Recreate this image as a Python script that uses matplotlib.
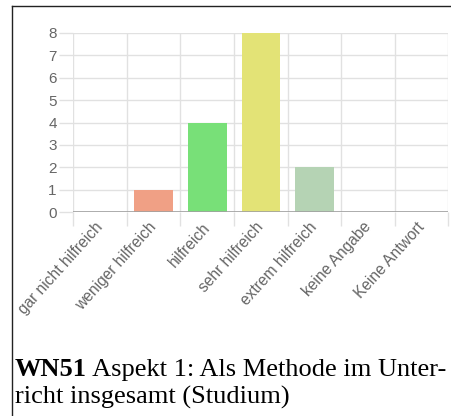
import matplotlib
matplotlib.use("Agg")
import matplotlib.pyplot as plt
from matplotlib.lines import Line2D

# data
categories = ["gar nicht hilfreich", "weniger hilfreich", "hilfreich",
              "sehr hilfreich", "extrem hilfreich", "keine Angabe", "Keine Antwort"]
counts = [0, 1, 4, 8, 2, 0, 0]
bar_colors = ["#f0a085", "#f0a085", "#78e078", "#e3e376", "#b5d3b4", "#cccccc", "#cccccc"]
y_ticks = [0, 1, 2, 3, 4, 5, 6, 7, 8]

W, H = 452, 416
fig = plt.figure(figsize=(W / 100, H / 100), dpi=100)

# axes placed in pixel terms
left, right, top, bottom = 73.3, 448.5, 33, 212
ax = fig.add_axes([left / W, 1 - bottom / H, (right - left) / W, (bottom - top) / H])

x = list(range(len(categories)))
ax.bar(x, counts, width=0.72, color=bar_colors, zorder=3)

ax.set_xlim(-0.5, len(categories) - 0.5)
ax.set_ylim(0, 8)
for s in ax.spines.values():
    s.set_visible(False)

grid_c = "#e1e1e1"
# vertical grid lines at category boundaries, extending down as ticks
bounds = [i - 0.5 for i in range(len(categories) + 1)]
ax.set_xticks(bounds, minor=True)
ax.tick_params(axis="x", which="minor", length=10, color=grid_c, width=1)
ax.grid(True, axis="x", which="minor", color=grid_c, lw=1, zorder=0)
ax.set_xticks(x)
ax.set_xticklabels(categories, rotation=48, ha="right", va="center",
                   rotation_mode="anchor", fontsize=11.2, color="#666666",
                   family="Liberation Sans")
ax.tick_params(axis="x", which="major", length=0, pad=9)

ax.set_yticks(y_ticks)
ax.set_yticklabels([str(v) for v in y_ticks], fontsize=11, color="#666666",
                   family="Liberation Sans")
ax.tick_params(axis="y", length=10, color=grid_c, width=1, pad=2)
ax.grid(True, axis="y", color=grid_c, lw=1, zorder=0)
ax.axhline(0, color="#a0a0a0", lw=1.2, zorder=4)

# page border lines (left and top)
fig.add_artist(Line2D([12.5 / W, 12.5 / W], [0, 1 - 5.5 / H], color="#222222", lw=1))
fig.add_artist(Line2D([12.5 / W, 1], [1 - 5.5 / H, 1 - 5.5 / H], color="#222222", lw=1))

# caption below the chart
cap_size = 19
t1 = fig.text(15 / W, 1 - 376 / H, "WN51", fontsize=cap_size, fontweight="bold",
              family="Liberation Serif", va="baseline")
fig.canvas.draw()
ax.annotate(" Aspekt 1: Als Methode im Unter-", xy=(1, 0), xycoords=t1,
            va="bottom", ha="left", fontsize=cap_size, family="Liberation Serif",
            annotation_clip=False)
fig.text(15 / W, 1 - 404 / H, "richt insgesamt (Studium)", fontsize=cap_size,
         family="Liberation Serif", va="baseline")

fig.savefig("out.png", dpi=100)
